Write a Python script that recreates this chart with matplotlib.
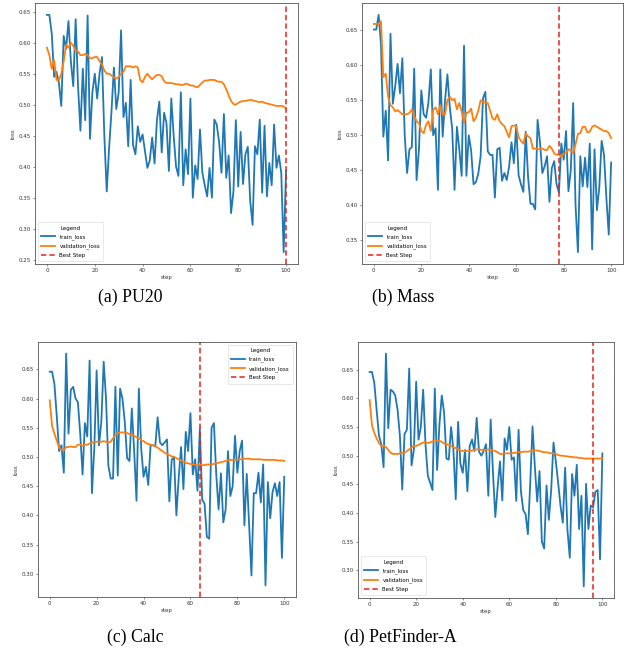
import matplotlib.pyplot as plt
import numpy as np

steps = np.arange(101)

# (a) PU20
pu20_train = [0.645, 0.645, 0.615, 0.545, 0.553, 0.535, 0.498, 0.611, 0.590, 0.635,
              0.570, 0.530, 0.638, 0.530, 0.458, 0.558, 0.475, 0.644, 0.445, 0.520,
              0.550, 0.510, 0.550, 0.577, 0.450, 0.360, 0.430, 0.490, 0.560, 0.493,
              0.520, 0.620, 0.480, 0.503, 0.433, 0.540, 0.435, 0.420, 0.465, 0.440,
              0.452, 0.425, 0.398, 0.410, 0.447, 0.405, 0.475, 0.505, 0.423, 0.487,
              0.470, 0.393, 0.510, 0.450, 0.400, 0.385, 0.520, 0.370, 0.428, 0.388,
              0.510, 0.350, 0.402, 0.380, 0.460, 0.390, 0.370, 0.352, 0.398, 0.350,
              0.476, 0.468, 0.440, 0.390, 0.485, 0.382, 0.418, 0.325, 0.360, 0.475,
              0.368, 0.456, 0.372, 0.420, 0.432, 0.345, 0.306, 0.433, 0.420, 0.476,
              0.358, 0.466, 0.352, 0.406, 0.370, 0.468, 0.398, 0.418, 0.390, 0.262,
              0.393]
pu20_val = [0.592, 0.580, 0.558, 0.572, 0.540, 0.540, 0.550, 0.570, 0.597, 0.592,
            0.600, 0.595, 0.587, 0.586, 0.580, 0.580, 0.582, 0.580, 0.575, 0.575,
            0.577, 0.577, 0.570, 0.565, 0.555, 0.550, 0.550, 0.547, 0.544, 0.542,
            0.545, 0.550, 0.553, 0.562, 0.562, 0.562, 0.560, 0.562, 0.560, 0.540,
            0.536, 0.545, 0.550, 0.545, 0.541, 0.545, 0.548, 0.548, 0.546, 0.538,
            0.535, 0.535, 0.535, 0.534, 0.533, 0.533, 0.532, 0.532, 0.534, 0.533,
            0.531, 0.531, 0.529, 0.528, 0.532, 0.536, 0.539, 0.539, 0.540, 0.540,
            0.540, 0.538, 0.537, 0.537, 0.533, 0.525, 0.515, 0.506, 0.501, 0.500,
            0.503, 0.505, 0.506, 0.506, 0.507, 0.508, 0.507, 0.506, 0.505, 0.504,
            0.505, 0.503, 0.502, 0.501, 0.500, 0.499, 0.498, 0.498, 0.498, 0.497,
            0.494]

# (b) Mass
mass_train = [0.651, 0.651, 0.672, 0.630, 0.498, 0.535, 0.464, 0.645, 0.545, 0.570,
              0.602, 0.560, 0.610, 0.500, 0.446, 0.480, 0.483, 0.595, 0.436, 0.480,
              0.564, 0.530, 0.525, 0.547, 0.594, 0.500, 0.510, 0.422, 0.594, 0.498,
              0.550, 0.587, 0.540, 0.510, 0.422, 0.512, 0.480, 0.442, 0.628, 0.442,
              0.500, 0.478, 0.430, 0.433, 0.445, 0.470, 0.553, 0.562, 0.477, 0.472,
              0.472, 0.411, 0.480, 0.482, 0.435, 0.446, 0.436, 0.455, 0.490, 0.460,
              0.515, 0.443, 0.430, 0.419, 0.505, 0.440, 0.402, 0.402, 0.394, 0.522,
              0.490, 0.446, 0.456, 0.470, 0.405, 0.453, 0.463, 0.430, 0.418, 0.488,
              0.465, 0.506, 0.420, 0.450, 0.546, 0.400, 0.333, 0.470, 0.427, 0.468,
              0.426, 0.488, 0.337, 0.480, 0.393, 0.425, 0.492, 0.472, 0.410, 0.358,
              0.461]
mass_val = [0.659, 0.659, 0.659, 0.663, 0.583, 0.588, 0.555, 0.543, 0.540, 0.534,
            0.536, 0.533, 0.530, 0.530, 0.530, 0.532, 0.537, 0.527, 0.520, 0.517,
            0.506, 0.503, 0.515, 0.520, 0.506, 0.536, 0.540, 0.530, 0.543, 0.530,
            0.530, 0.550, 0.555, 0.550, 0.552, 0.537, 0.546, 0.534, 0.518, 0.532,
            0.533, 0.538, 0.520, 0.525, 0.535, 0.550, 0.548, 0.547, 0.546, 0.535,
            0.524, 0.522, 0.530, 0.520, 0.516, 0.513, 0.505, 0.497, 0.513, 0.514,
            0.513, 0.497, 0.492, 0.488, 0.503, 0.498, 0.496, 0.481, 0.481, 0.480,
            0.480, 0.481, 0.479, 0.479, 0.485, 0.481, 0.474, 0.472, 0.473, 0.469,
            0.474, 0.475, 0.480, 0.478, 0.474, 0.487, 0.502, 0.503, 0.512, 0.512,
            0.504, 0.505, 0.512, 0.514, 0.512, 0.510, 0.508, 0.506, 0.506, 0.503,
            0.496]

# (c) Calc
calc_train = [0.646, 0.646, 0.625, 0.570, 0.510, 0.520, 0.473, 0.677, 0.540, 0.615,
              0.620, 0.600, 0.594, 0.540, 0.470, 0.558, 0.535, 0.665, 0.438, 0.515,
              0.648, 0.520, 0.560, 0.663, 0.600, 0.485, 0.463, 0.463, 0.620, 0.468,
              0.617, 0.600, 0.560, 0.498, 0.493, 0.583, 0.510, 0.425, 0.617, 0.515,
              0.466, 0.483, 0.452, 0.520, 0.520, 0.518, 0.568, 0.525, 0.520, 0.525,
              0.530, 0.424, 0.495, 0.500, 0.400, 0.465, 0.517, 0.445, 0.543, 0.510,
              0.575, 0.470, 0.496, 0.442, 0.548, 0.427, 0.420, 0.363, 0.360, 0.550,
              0.558, 0.470, 0.410, 0.472, 0.388, 0.410, 0.510, 0.433, 0.450, 0.536,
              0.473, 0.510, 0.528, 0.383, 0.471, 0.385, 0.297, 0.438, 0.438, 0.473,
              0.422, 0.487, 0.280, 0.457, 0.395, 0.440, 0.455, 0.433, 0.457, 0.327,
              0.466]
calc_val = [0.597, 0.553, 0.540, 0.528, 0.516, 0.512, 0.512, 0.517, 0.517, 0.518,
            0.517, 0.517, 0.521, 0.521, 0.519, 0.521, 0.521, 0.523, 0.524, 0.526,
            0.526, 0.526, 0.526, 0.527, 0.526, 0.525, 0.526, 0.532, 0.537, 0.541,
            0.542, 0.542, 0.542, 0.541, 0.539, 0.538, 0.536, 0.534, 0.532, 0.529,
            0.527, 0.524, 0.522, 0.521, 0.520, 0.518, 0.516, 0.513, 0.510, 0.507,
            0.505, 0.503, 0.501, 0.500, 0.498, 0.496, 0.494, 0.492, 0.490, 0.489,
            0.488, 0.487, 0.487, 0.486, 0.486, 0.486, 0.486, 0.487, 0.487, 0.487,
            0.488, 0.489, 0.490, 0.491, 0.492, 0.493, 0.494, 0.495, 0.495, 0.495,
            0.496, 0.496, 0.496, 0.497, 0.497, 0.497, 0.496, 0.496, 0.496, 0.496,
            0.496, 0.495, 0.495, 0.495, 0.495, 0.495, 0.495, 0.494, 0.494, 0.494,
            0.493]

# (d) PetFinder-A
pet_train = [0.646, 0.646, 0.627, 0.580, 0.535, 0.520, 0.480, 0.678, 0.548, 0.615,
             0.612, 0.605, 0.580, 0.535, 0.441, 0.538, 0.545, 0.652, 0.483, 0.510,
             0.629, 0.528, 0.550, 0.615, 0.520, 0.465, 0.453, 0.440, 0.617, 0.475,
             0.555, 0.605, 0.575, 0.495, 0.493, 0.550, 0.510, 0.424, 0.559, 0.486,
             0.470, 0.510, 0.438, 0.517, 0.528, 0.508, 0.566, 0.507, 0.500, 0.508,
             0.520, 0.430, 0.563, 0.470, 0.393, 0.445, 0.490, 0.422, 0.530, 0.510,
             0.550, 0.493, 0.497, 0.421, 0.545, 0.438, 0.405, 0.398, 0.363, 0.452,
             0.551, 0.480, 0.420, 0.473, 0.350, 0.338, 0.448, 0.388, 0.440, 0.523,
             0.490, 0.453, 0.413, 0.383, 0.479, 0.370, 0.322, 0.468, 0.430, 0.484,
             0.372, 0.430, 0.272, 0.451, 0.372, 0.413, 0.410, 0.437, 0.440, 0.319,
             0.504]
pet_val = [0.597, 0.553, 0.540, 0.530, 0.522, 0.517, 0.517, 0.515, 0.510, 0.505,
           0.503, 0.503, 0.503, 0.504, 0.505, 0.505, 0.508, 0.511, 0.514, 0.517,
           0.517, 0.519, 0.521, 0.523, 0.523, 0.522, 0.523, 0.525, 0.527, 0.526,
           0.526, 0.524, 0.521, 0.520, 0.519, 0.517, 0.515, 0.513, 0.511, 0.509,
           0.508, 0.508, 0.508, 0.508, 0.509, 0.510, 0.511, 0.511, 0.510, 0.510,
           0.510, 0.511, 0.510, 0.509, 0.508, 0.506, 0.503, 0.503, 0.504, 0.504,
           0.504, 0.504, 0.505, 0.505, 0.506, 0.506, 0.507, 0.507, 0.507, 0.508,
           0.508, 0.509, 0.509, 0.508, 0.507, 0.506, 0.506, 0.505, 0.504, 0.504,
           0.503, 0.501, 0.500, 0.500, 0.499, 0.499, 0.498, 0.498, 0.497, 0.497,
           0.496, 0.496, 0.495, 0.495, 0.495, 0.495, 0.495, 0.495, 0.495, 0.495,
           0.495]

captions = ['(a) PU20', '(b) Mass', '(c) Calc', '(d) PetFinder-A']
best_steps = [100, 78, 64, 96]
legend_locs = ['lower left', 'lower left', 'upper right', 'lower left']

W, H = 625, 653
# axes boxes in pixels: left, top, right, bottom
boxes = [(35, 3, 298, 264), (362, 3, 623, 264),
         (38, 342, 296, 597), (358, 342, 614, 598)]
caption_pos = [(130, 297), (403, 297), (135, 637), (400, 637)]

FS = 4.0

fig = plt.figure(figsize=(W / 100, H / 100), dpi=100)

panels = [(pu20_train, pu20_val), (mass_train, mass_val),
          (calc_train, calc_val), (pet_train, pet_val)]

for i, (train, val) in enumerate(panels):
    l, t, r, b = boxes[i]
    ax = fig.add_axes([l / W, 1 - b / H, (r - l) / W, (b - t) / H])
    ax.plot(steps, train, color='#1f77b4', lw=1.3, label='train_loss')
    ax.plot(steps, val, color='#ff7f0e', lw=1.3, label='validation_loss')
    ax.axvline(best_steps[i], color='#e8221b', ls='--', lw=1.1,
               dashes=(3.5, 2), label='Best Step')
    ax.set_xticks([0, 20, 40, 60, 80, 100])
    ax.tick_params(labelsize=FS, length=1.5, width=0.4, pad=1.5, colors='#333333')
    for s in ax.spines.values():
        s.set_linewidth(0.6)
        s.set_color('#555555')
    ax.set_xlabel('step', fontsize=FS, labelpad=1.5, color='#333333')
    ax.set_ylabel('loss', fontsize=FS, labelpad=2, color='#333333')
    leg = ax.legend(title='Legend', loc=legend_locs[i], fontsize=FS,
                    title_fontsize=FS, handlelength=2.5, borderpad=0.6,
                    labelspacing=0.65, framealpha=0.8, edgecolor='#cccccc')
    leg.get_frame().set_linewidth(0.4)
    cx, cy = caption_pos[i]
    fig.text(cx / W, 1 - cy / H, captions[i], ha='center', va='center',
             fontsize=12.8, family='Liberation Serif')

fig.savefig('out.png', dpi=100)
